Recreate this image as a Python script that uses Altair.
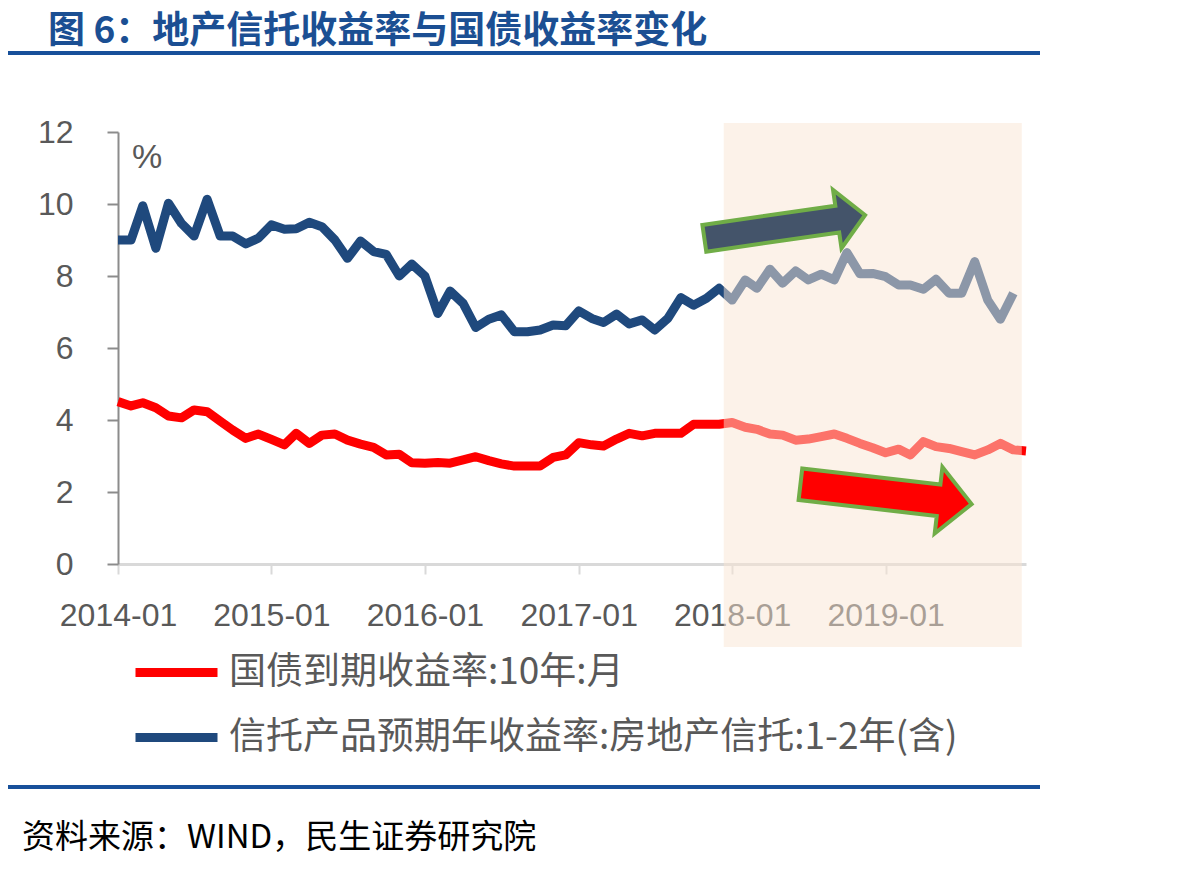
import altair as alt
import pandas as pd

# Monthly observations, Jan 2014 - Dec 2019
months = pd.date_range("2014-01-01", "2019-12-01", freq="MS").strftime("%Y-%m-%d").tolist()

bond_label = "国债到期收益率:10年:月"
trust_label = "信托产品预期年收益率:房地产信托:1-2年(含)"

# 10Y government bond yield (%)
bond_10y = [4.51, 4.39, 4.48, 4.34, 4.11, 4.06, 4.28, 4.23, 3.97, 3.72, 3.49, 3.61,
            3.46, 3.31, 3.63, 3.35, 3.58, 3.61, 3.44, 3.33, 3.24, 3.03, 3.05, 2.81,
            2.80, 2.82, 2.80, 2.89, 2.98, 2.87, 2.78, 2.72, 2.72, 2.72, 2.96, 3.03,
            3.37, 3.31, 3.28, 3.47, 3.63, 3.56, 3.63, 3.63, 3.63, 3.88, 3.88, 3.88,
            3.93, 3.80, 3.74, 3.61, 3.58, 3.44, 3.47, 3.54, 3.61, 3.49, 3.35, 3.23,
            3.09, 3.19, 3.03, 3.40, 3.26, 3.21, 3.12, 3.03, 3.17, 3.35, 3.17, 3.14]

# Expected yield of 1-2Y real-estate trust products (%), through Nov 2019
trust_re = [9.00, 9.00, 9.95, 8.77, 10.02, 9.46, 9.11, 10.13, 9.11, 9.11, 8.89, 9.05,
            9.42, 9.30, 9.31, 9.49, 9.37, 9.00, 8.49, 8.97, 8.68, 8.60, 8.00, 8.33,
            8.00, 6.96, 7.58, 7.24, 6.57, 6.80, 6.92, 6.45, 6.45, 6.50, 6.64, 6.62,
            7.03, 6.82, 6.71, 6.94, 6.67, 6.78, 6.50, 6.82, 7.40, 7.19, 7.38, 7.66,
            7.33, 7.89, 7.66, 8.19, 7.80, 8.14, 7.89, 8.05, 7.89, 8.65, 8.06, 8.07,
            7.98, 7.75, 7.75, 7.63, 7.91, 7.52, 7.52, 8.40, 7.33, 6.80, 7.52]

year_ticks = [2014, 2015, 2016, 2017, 2018, 2019]
y_ticks = [0, 2, 4, 6, 8, 10, 12]

# Highlighted recent period
shade_start = ["2017-12-12"]
shade_end = ["2019-11-21"]

# Trend arrow anchors (center date, center value)
arrow_dates = ["2018-05-06", "2019-01-02"]
arrow_values = [9.37, 1.94]

df = pd.concat([
    pd.DataFrame({"month": months, "value": bond_10y, "series": bond_label}),
    pd.DataFrame({"month": months[:len(trust_re)], "value": trust_re, "series": trust_label}),
], ignore_index=True)

W, H = 908, 432
GRAY = "#595959"
NAVY = "#1B4F93"
LABEL_FONT = "Liberation Sans"
CJK = "Noto Sans CJK SC"

x_scale = alt.Scale(domain=[alt.DateTime(year=2014, month=1, date=1),
                            alt.DateTime(year=2019, month=12, date=1)])

x_axis = alt.Axis(
    values=[alt.DateTime(year=y, month=1, date=1) for y in year_ticks],
    format="%Y-%m", title=None, grid=False,
    domainColor="#D9D9D9", domainWidth=3,
    tickColor="#D9D9D9", tickWidth=2, tickSize=10,
    labelFont=LABEL_FONT, labelFontSize=32, labelColor=GRAY,
    labelPadding=26, labelFlush=False, labelOverlap=False, labelBound=False,
)
y_axis = alt.Axis(
    values=y_ticks, title=None, grid=False,
    domainColor="#8C8C8C", domainWidth=2,
    tickColor="#8C8C8C", tickWidth=2, tickSize=11,
    labelFont=LABEL_FONT, labelFontSize=32, labelColor=GRAY, labelPadding=34,
)

lines = alt.Chart(df).mark_line(strokeWidth=9, strokeJoin="round", strokeCap="butt").encode(
    x=alt.X("month:T", scale=x_scale, axis=x_axis),
    y=alt.Y("value:Q", scale=alt.Scale(domain=[0, 12]), axis=y_axis),
    color=alt.Color(
        "series:N",
        scale=alt.Scale(domain=[bond_label, trust_label], range=["#FF0000", "#1F497D"]),
        legend=alt.Legend(
            orient="none", legendX=13, legendY=495, title=None,
            symbolType="stroke", symbolSize=6724, symbolStrokeWidth=9,
            labelFont=CJK, labelFontSize=37, labelColor=GRAY, labelOffset=7,
            labelLimit=0, rowPadding=1,
        ),
    ),
)

shade = alt.Chart(pd.DataFrame({"start": shade_start, "end": shade_end})).mark_rect(
    fill="#F9E6D4", opacity=0.5
).encode(
    x=alt.X("start:T", scale=x_scale), x2="end:T",
    y=alt.value(-9), y2=alt.value(515),
)

arrows_df = pd.DataFrame({"month": arrow_dates, "value": arrow_values})

up_shape = "M-1,-0.166 L0.654,-0.166 L0.654,-0.363 L1,0 L0.654,0.363 L0.654,0.166 L-1,0.166 Z"
down_shape = "M-1,-0.184 L0.614,-0.184 L0.614,-0.389 L1,0 L0.614,0.389 L0.614,0.184 L-1,0.184 Z"

arrow_up = alt.Chart(arrows_df.iloc[[0]]).mark_point(
    shape=up_shape, size=26374, angle=351.75, filled=True, fill="#44546A",
    fillOpacity=1, opacity=1, stroke="#70AD47", strokeWidth=4, strokeJoin="miter",
).encode(x=alt.X("month:T", scale=x_scale), y="value:Q")

arrow_down = alt.Chart(arrows_df.iloc[[1]]).mark_point(
    shape=down_shape, size=29687, angle=6.6, filled=True, fill="#FF0000",
    fillOpacity=1, opacity=1, stroke="#70AD47", strokeWidth=4, strokeJoin="miter",
).encode(x=alt.X("month:T", scale=x_scale), y="value:Q")

def label(text, x, y, **kw):
    return alt.Chart(pd.DataFrame({"t": [text]})).mark_text(**kw).encode(
        x=alt.value(x), y=alt.value(y), text="t:N"
    )

unit = label("%", 14, 26, font=LABEL_FONT, fontSize=34, color=GRAY,
             align="left", baseline="middle")
title = label("图 6：地产信托收益率与国债收益率变化", -70, -100, font=CJK, fontSize=37,
              fontWeight="bold", color=NAVY, align="left", baseline="middle")
source = label("资料来源：WIND，民生证券研究院", -96, 706, font=CJK, fontSize=33,
               color="#000000", align="left", baseline="middle")

top_rule = alt.Chart(pd.DataFrame({"k": [0]})).mark_rule(color="#17509A", strokeWidth=4).encode(
    x=alt.value(-110), x2=alt.value(922), y=alt.value(-79)
)
bottom_rule = alt.Chart(pd.DataFrame({"k": [0]})).mark_rule(color="#17509A", strokeWidth=4).encode(
    x=alt.value(-110), x2=alt.value(922), y=alt.value(655)
)

chart = alt.layer(
    lines, shade, arrow_up, arrow_down, unit, title, source, top_rule, bottom_rule
).properties(
    width=W, height=H,
    padding={"left": 118, "top": 132, "right": 175, "bottom": 305},
    autosize="none",
).configure_view(stroke=None)

chart.save("out.html", embed_options={"renderer": "svg", "actions": False})
